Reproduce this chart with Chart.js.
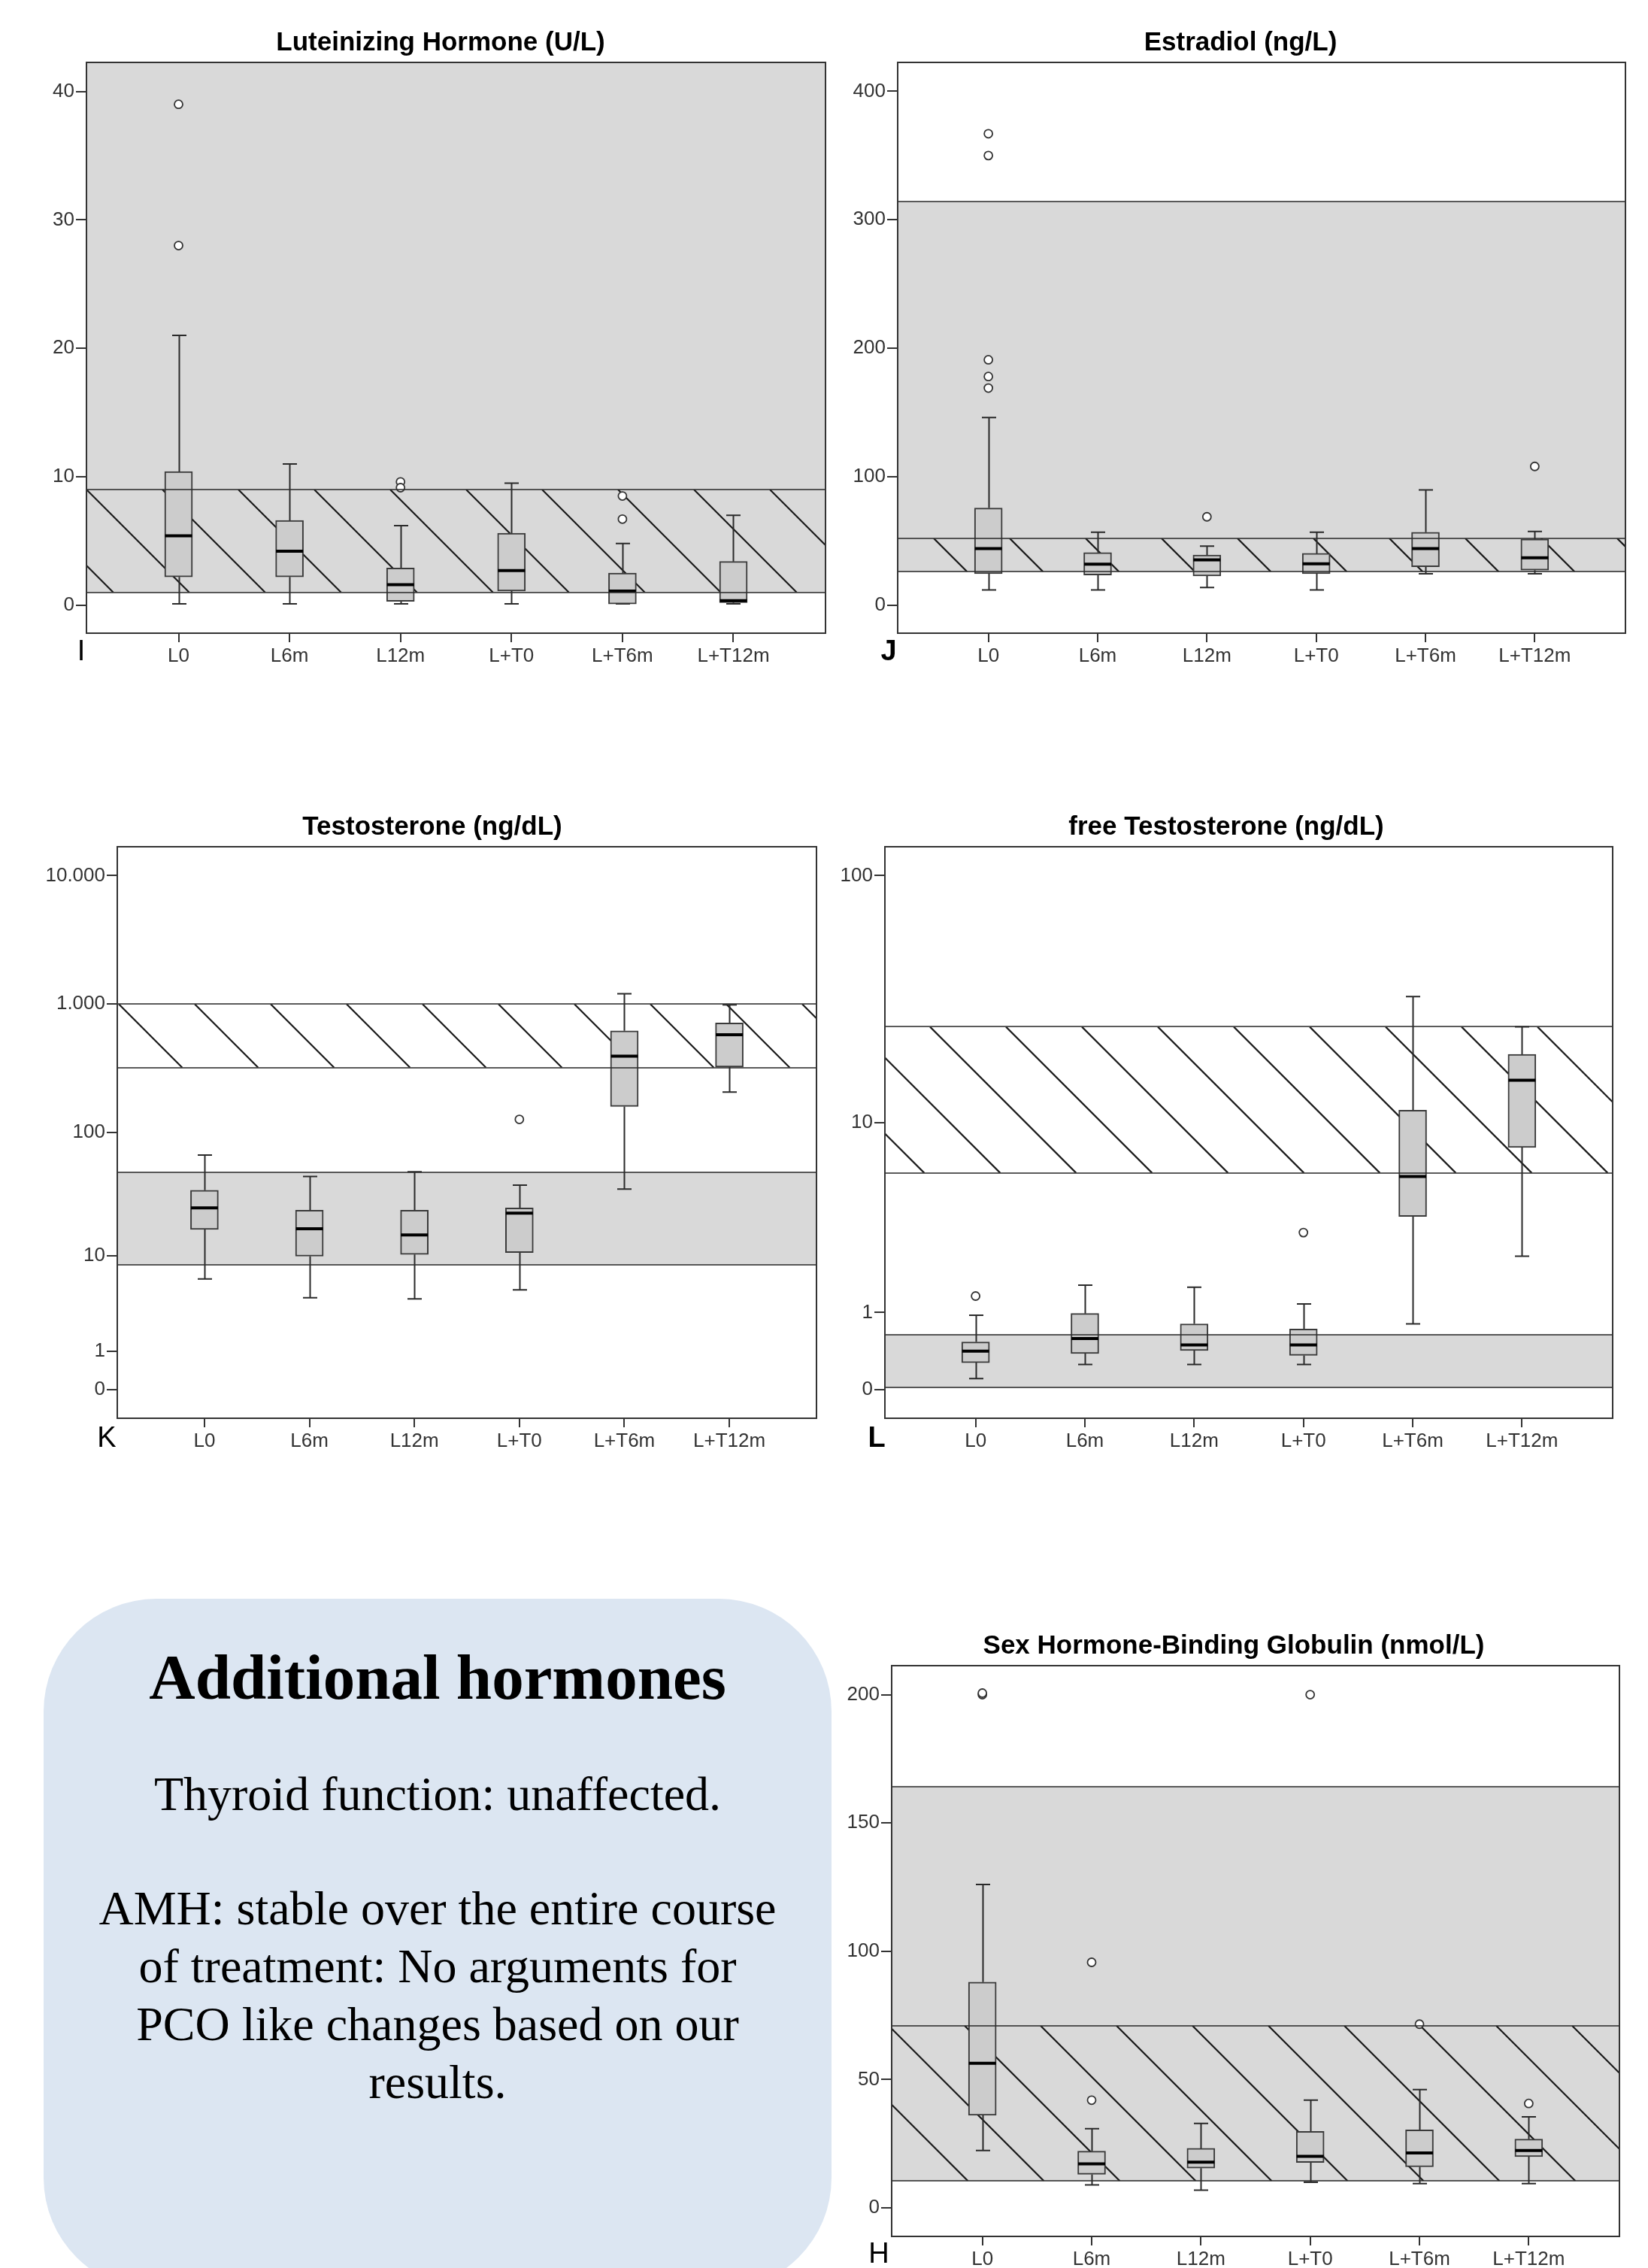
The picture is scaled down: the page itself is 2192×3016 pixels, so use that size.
<!DOCTYPE html>
<html><head><meta charset="utf-8">
<script src="https://cdn.jsdelivr.net/npm/chart.js@4.4.1/dist/chart.umd.min.js"></script>
<style>
html,body{margin:0;padding:0;background:#fff;}
body{width:2192px;height:3016px;position:relative;overflow:hidden;}
canvas{position:absolute;}
.note{position:absolute;left:58px;top:2126px;width:1048px;height:920px;background:#dce6f2;border-radius:150px;}
.t{position:absolute;left:58px;width:1048px;text-align:center;font-family:'Liberation Serif','Times New Roman',serif;color:#000;white-space:nowrap;}
</style></head><body>
<canvas id="cI" width="1110" height="900" style="left:0;top:0"></canvas>
<canvas id="cJ" width="1082" height="900" style="left:1110px;top:0"></canvas>
<canvas id="cK" width="1110" height="900" style="left:0;top:1040px"></canvas>
<canvas id="cL" width="1082" height="900" style="left:1110px;top:1040px"></canvas>
<canvas id="cH" width="1082" height="886" style="left:1110px;top:2130px"></canvas>
<div class="note"></div>
<div class="t" style="top:2180px;font-size:85px;line-height:100px;font-weight:bold;">Additional hormones</div>
<div class="t" style="top:2347px;font-size:64px;line-height:77px;">Thyroid function: unaffected.</div>
<div class="t" style="top:2499px;font-size:64px;line-height:77px;">AMH: stable over the entire course<br>of treatment: No arguments for<br>PCO like changes based on our<br>results.</div>
<script>
// ---------- data ----------
const categories = ['L0', 'L6m', 'L12m', 'L+T0', 'L+T6m', 'L+T12m'];

// Luteinizing Hormone (U/L)
const lhMin    = [0.1, 0.1, 0.1, 0.1, 0.1, 0.1];
const lhQ1     = [2.2, 2.2, 0.3, 1.1, 0.1, 0.2];
const lhMedian = [5.4, 4.2, 1.6, 2.7, 1.1, 0.35];
const lhQ3     = [10.4, 6.6, 2.9, 5.6, 2.5, 3.4];
const lhMax    = [21, 11, 6.2, 9.5, 4.8, 7];
const lhOutlierCat = [0, 0, 2, 2, 4, 4];
const lhOutlierVal = [39, 28, 9.6, 9.15, 8.5, 6.7];
const lhTicks = [0, 10, 20, 30, 40];
const lhTickLabels = ['0', '10', '20', '30', '40'];
const lhShade = [1, Infinity];
const lhHatch = [1, 9];

// Estradiol (ng/L)
const e2Min    = [11.8, 11.8, 13.8, 11.8, 24.5, 24.5];
const e2Q1     = [24.5, 23.5, 22.8, 24.5, 29.9, 27.2];
const e2Median = [44, 31.9, 35.3, 32.2, 44, 36.9];
const e2Q3     = [75.6, 41, 39, 40.3, 56.8, 51.4];
const e2Max    = [146, 56.8, 46, 56.8, 89.7, 57.4];
const e2OutlierCat = [0, 0, 0, 0, 0, 2, 5];
const e2OutlierVal = [367, 350, 191, 178, 169, 68.8, 108];
const e2Ticks = [0, 100, 200, 300, 400];
const e2TickLabels = ['0', '100', '200', '300', '400'];
const e2Shade = [26, 314];
const e2Hatch = [26, 52];

// Testosterone (ng/dL)
const tMin    = [6.3, 4.2, 4.1, 5.0, 35.5, 206];
const tQ1     = [16.7, 9.95, 10.3, 10.7, 159, 324];
const tMedian = [25, 16.9, 15, 22.7, 393, 578];
const tQ3     = [34.7, 24, 24, 25, 620, 713];
const tMax    = [66, 44.7, 48.7, 38.1, 1205, 986];
const tOutlierCat = [3];
const tOutlierVal = [126];
const tTicks = [0, 1, 10, 100, 1000, 10000];
const tTickLabels = ['0', '1', '10', '100', '1.000', '10.000'];
const tShade = [8.4, 48];
const tHatch = [320, 1000];

// free Testosterone (ng/dL)
const ftMin    = [0.106, 0.256, 0.256, 0.256, 0.807, 2.32];
const ftQ1     = [0.276, 0.384, 0.422, 0.362, 3.74, 7.8];
const ftMedian = [0.416, 0.585, 0.495, 0.495, 5.79, 15.1];
const ftQ3     = [0.537, 0.984, 0.807, 0.725, 11.3, 19.3];
const ftMax    = [0.953, 1.56, 1.51, 1.16, 33.1, 25];
const ftOutlierCat = [0, 3];
const ftOutlierVal = [1.32, 3.1];
const ftTicks = [0, 1, 10, 100];
const ftTickLabels = ['0', '1', '10', '100'];
const ftShade = [0.02, 0.64];
const ftHatch = [6, 25];

// Sex Hormone-Binding Globulin (nmol/L)
const shMin    = [22.4, 9.0, 6.9, 10.0, 9.5, 9.5];
const shQ1     = [36.1, 13.1, 15.5, 17.7, 16.0, 20.0];
const shMedian = [56.4, 17.2, 17.8, 20.1, 21.4, 22.4];
const shQ3     = [88, 22.1, 23.2, 29.8, 30.4, 26.8];
const shMax    = [126, 30.9, 32.9, 42, 46.1, 35.5];
const shOutlierCat = [0, 0, 1, 1, 3, 4, 5];
const shOutlierVal = [200, 200.6, 95.7, 42, 200, 71.6, 40.7];
const shTicks = [0, 50, 100, 150, 200];
const shTickLabels = ['0', '50', '100', '150', '200'];
const shShade = [10.5, 164];
const shHatch = [10.5, 71];

// ---------- rendering ----------
const linearT = v => v;
const safeLogT = v => Math.log10(1 + v);   // SPSS "safe log" axis
const LABEL_FONT = {family: '"Liberation Sans", Arial, sans-serif', size: 26};
const HATCH_STEP = 101;

const boxPlugin = {
  id: 'boxplot',
  beforeDatasetsDraw(chart, args, o) {
    const {ctx, chartArea: a, scales: {x, y}} = chart;
    const f = o.tf;
    const py = v => v === Infinity ? a.top : y.getPixelForValue(f(v));
    ctx.save();
    ctx.beginPath(); ctx.rect(a.left, a.top, a.right - a.left, a.bottom - a.top); ctx.clip();
    const s0 = py(o.shade[1]), s1 = py(o.shade[0]);
    ctx.fillStyle = '#d9d9d9';
    ctx.fillRect(a.left, s0, a.right - a.left, s1 - s0);
    const h0 = py(o.hatch[1]), h1 = py(o.hatch[0]), hh = h1 - h0;
    ctx.save();
    ctx.beginPath(); ctx.rect(a.left, h0, a.right - a.left, hh); ctx.clip();
    ctx.strokeStyle = '#1a1a1a'; ctx.lineWidth = 2.2;
    ctx.beginPath();
    let xs = a.left + o.phase;
    while (xs + hh > a.left) xs -= HATCH_STEP;
    for (; xs < a.right; xs += HATCH_STEP) { ctx.moveTo(xs, h0); ctx.lineTo(xs + hh, h1); }
    ctx.stroke();
    ctx.restore();
    // whiskers
    ctx.strokeStyle = '#2a2a2a'; ctx.lineWidth = 2;
    o.min.forEach((mn, i) => {
      const cx = Math.round(x.getPixelForValue(i)) + 0.5;
      const pMin = py(mn), pQ1 = py(o.q1[i]), pQ3 = py(o.q3[i]), pMax = py(o.max[i]);
      ctx.beginPath();
      ctx.moveTo(cx, pQ3); ctx.lineTo(cx, pMax);
      ctx.moveTo(cx - 9.5, pMax); ctx.lineTo(cx + 9.5, pMax);
      ctx.moveTo(cx, pQ1); ctx.lineTo(cx, pMin);
      ctx.moveTo(cx - 9.5, pMin); ctx.lineTo(cx + 9.5, pMin);
      ctx.stroke();
    });
    ctx.restore();
  },
  afterDatasetsDraw(chart, args, o) {
    const {ctx, chartArea: a, scales: {x, y}} = chart;
    const f = o.tf;
    ctx.save();
    ctx.beginPath(); ctx.rect(a.left, a.top, a.right - a.left, a.bottom - a.top); ctx.clip();
    ctx.strokeStyle = '#000'; ctx.lineWidth = 4;
    o.median.forEach((m, i) => {
      const cx = x.getPixelForValue(i), p = y.getPixelForValue(f(m));
      ctx.beginPath(); ctx.moveTo(cx - 18, p); ctx.lineTo(cx + 18, p); ctx.stroke();
    });
    const edges = [...new Set([...o.shade, ...o.hatch])].filter(v => v !== Infinity);
    ctx.strokeStyle = 'rgba(45,45,45,0.78)'; ctx.lineWidth = 2;
    edges.forEach(v => {
      const p = Math.round(y.getPixelForValue(f(v)));
      ctx.beginPath(); ctx.moveTo(a.left, p); ctx.lineTo(a.right, p); ctx.stroke();
    });
    ctx.restore();
    ctx.save();
    ctx.strokeStyle = '#333'; ctx.lineWidth = 2;
    ctx.strokeRect(a.left, a.top, a.right - a.left, a.bottom - a.top);
    ctx.restore();
  },
  afterDraw(chart, args, o) {
    const ctx = chart.ctx;
    ctx.save();
    ctx.fillStyle = '#000';
    ctx.textAlign = 'center'; ctx.textBaseline = 'middle';
    ctx.font = 'bold 35px "Liberation Sans", Arial, sans-serif';
    ctx.fillText(o.title, o.titleX, o.titleY);
    ctx.font = (o.letterBold ? 'bold ' : '') + '38px "Liberation Sans", Arial, sans-serif';
    ctx.fillText(o.letter, o.letterX, o.letterY);
    ctx.restore();
  }
};
Chart.register(boxPlugin);

function makePanel(id, p) {
  const f = p.tf;
  new Chart(document.getElementById(id), {
    type: 'bar',
    data: {
      datasets: [
        {
          type: 'scatter', order: 0,
          data: p.outCat.map((c, i) => ({x: c, y: f(p.outVal[i])})),
          pointStyle: 'circle', pointRadius: 5.5,
          pointBackgroundColor: '#fff', pointBorderColor: '#333', pointBorderWidth: 1.8
        },
        {
          type: 'bar', order: 1,
          data: categories.map((c, i) => ({x: i, y: [f(p.q1[i]), f(p.q3[i])]})),
          backgroundColor: '#cccccc', borderColor: '#3a3a3a', borderWidth: 2,
          borderSkipped: false, barThickness: 37, grouped: false
        }
      ]
    },
    options: {
      responsive: false, animation: false, events: [],
      layout: {padding: {top: p.L.top, right: p.L.right, left: 0, bottom: 0}},
      plugins: {
        legend: {display: false}, tooltip: {enabled: false},
        boxplot: {
          tf: f, min: p.min, q1: p.q1, median: p.median, q3: p.q3, max: p.max,
          shade: p.shade, hatch: p.hatch, phase: p.phase,
          title: p.title, titleX: p.titleX, titleY: p.titleY,
          letter: p.letter, letterX: p.letterX, letterY: p.letterY, letterBold: p.letterBold
        }
      },
      scales: {
        x: {
          type: 'linear', min: -0.83, max: 5.83, bounds: 'data', offset: false,
          afterBuildTicks: s => { s.ticks = categories.map((c, i) => ({value: i})); },
          afterFit: s => { s.height = p.L.xh; },
          ticks: {callback: (v, i) => categories[i], font: LABEL_FONT, color: '#333', padding: 3, maxRotation: 0, autoSkip: false},
          grid: {offset: false, drawOnChartArea: false, drawTicks: true, tickLength: 12, color: '#333', lineWidth: 2},
          border: {display: true, color: '#333', width: 2}
        },
        y: {
          type: 'linear', min: p.yMin, max: p.yMax, bounds: 'data',
          afterBuildTicks: s => { s.ticks = p.ticks.map(v => ({value: f(v)})); },
          afterFit: s => { s.width = p.L.left; },
          ticks: {callback: (v, i) => p.tickLabels[i], font: LABEL_FONT, color: '#333', padding: 2, autoSkip: false},
          grid: {offset: false, drawOnChartArea: false, drawTicks: true, tickLength: 14, color: '#333', lineWidth: 2},
          border: {display: true, color: '#333', width: 2}
        }
      }
    }
  });
}

makePanel('cI', {
  tf: linearT, min: lhMin, q1: lhQ1, median: lhMedian, q3: lhQ3, max: lhMax,
  outCat: lhOutlierCat, outVal: lhOutlierVal, ticks: lhTicks, tickLabels: lhTickLabels,
  shade: lhShade, hatch: lhHatch, phase: 0, yMin: -2.18, yMax: 42.26,
  L: {top: 83, right: 12, left: 115, xh: 58},
  title: 'Luteinizing Hormone (U/L)', titleX: 586, titleY: 57,
  letter: 'I', letterX: 108, letterY: 868, letterBold: false
});
makePanel('cJ', {
  tf: linearT, min: e2Min, q1: e2Q1, median: e2Median, q3: e2Q3, max: e2Max,
  outCat: e2OutlierCat, outVal: e2OutlierVal, ticks: e2Ticks, tickLabels: e2TickLabels,
  shade: e2Shade, hatch: e2Hatch, phase: 48, yMin: -21.8, yMax: 422.5,
  L: {top: 83, right: 30, left: 84, xh: 58},
  title: 'Estradiol (ng/L)', titleX: 540, titleY: 57,
  letter: 'J', letterX: 72, letterY: 868, letterBold: true
});
makePanel('cK', {
  tf: safeLogT, min: tMin, q1: tQ1, median: tMedian, q3: tQ3, max: tMax,
  outCat: tOutlierCat, outVal: tOutlierVal, ticks: tTicks, tickLabels: tTickLabels,
  shade: tShade, hatch: tHatch, phase: 2, yMin: -0.221, yMax: 4.2246,
  L: {top: 86, right: 24, left: 156, xh: 54},
  title: 'Testosterone (ng/dL)', titleX: 575, titleY: 60,
  letter: 'K', letterX: 142, letterY: 874, letterBold: false
});
makePanel('cL', {
  tf: safeLogT, min: ftMin, q1: ftQ1, median: ftMedian, q3: ftQ3, max: ftMax,
  outCat: ftOutlierCat, outVal: ftOutlierVal, ticks: ftTicks, tickLabels: ftTickLabels,
  shade: ftShade, hatch: ftHatch, phase: 60, yMin: -0.1109, yMax: 2.1169,
  L: {top: 86, right: 47, left: 67, xh: 54},
  title: 'free Testosterone (ng/dL)', titleX: 521, titleY: 60,
  letter: 'L', letterX: 56, letterY: 874, letterBold: true
});
makePanel('cH', {
  tf: linearT, min: shMin, q1: shQ1, median: shMedian, q3: shQ3, max: shMax,
  outCat: shOutlierCat, outVal: shOutlierVal, ticks: shTicks, tickLabels: shTickLabels,
  shade: shShade, hatch: shHatch, phase: 97, yMin: -11.1, yMax: 211.3,
  L: {top: 85, right: 38, left: 76, xh: 42},
  title: 'Sex Hormone-Binding Globulin (nmol/L)', titleX: 531, titleY: 59,
  letter: 'H', letterX: 59, letterY: 869, letterBold: false
});
</script>
</body></html>
